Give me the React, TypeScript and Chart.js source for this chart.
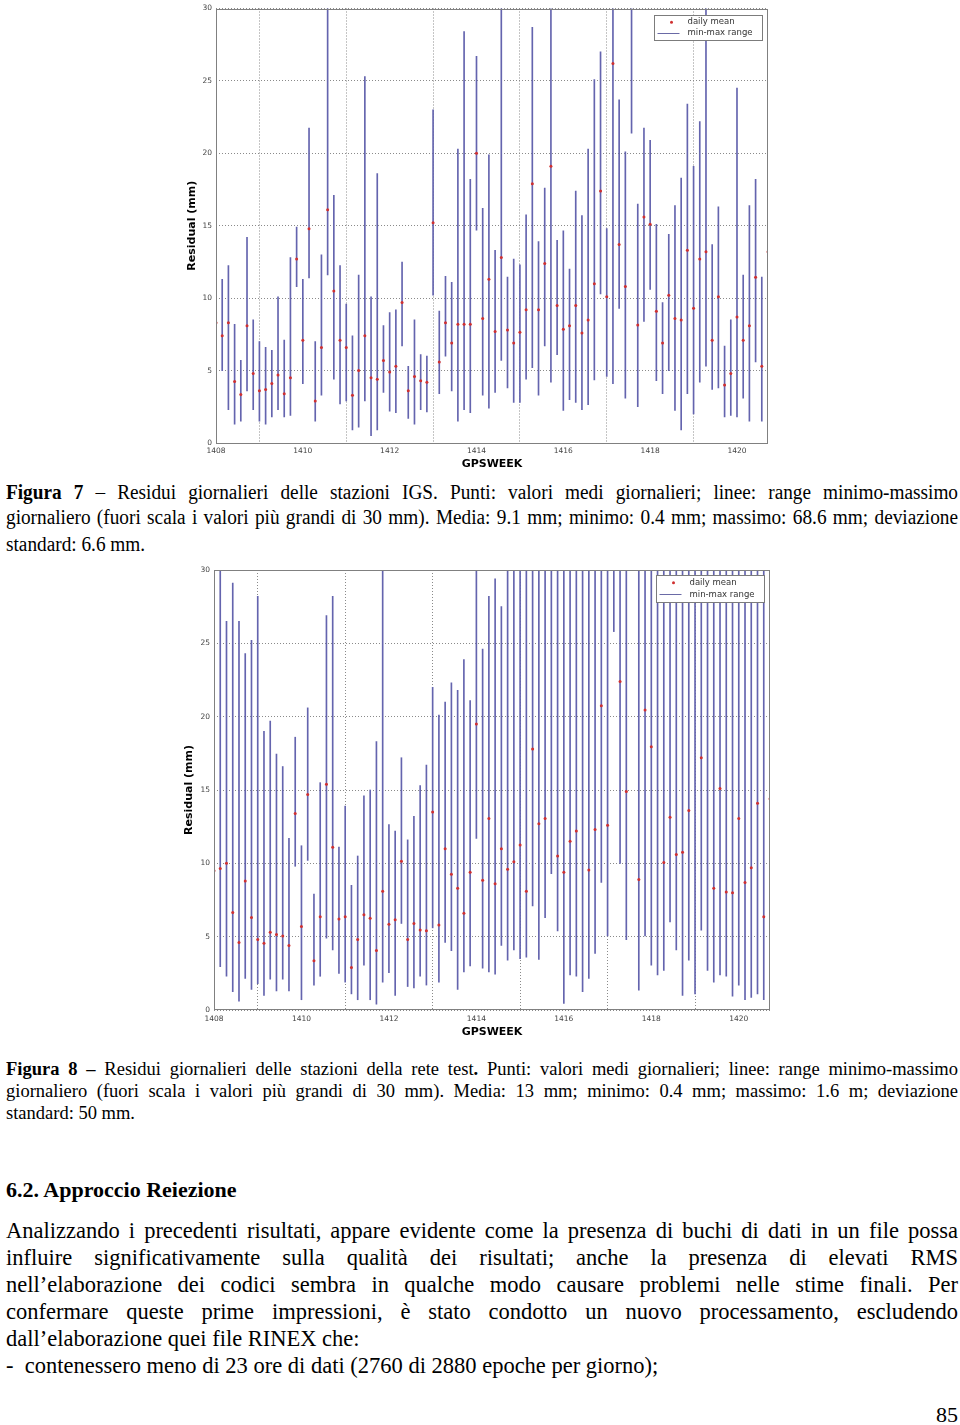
import React, { useEffect, useRef } from 'react';
import { Chart, registerables } from 'chart.js';
Chart.register(...registerables);

// ---------- data ----------
const START_WEEK = 1408;
const DAYS_PER_WEEK = 7;
const N_DAYS = 90;
const X_TICKS = [1408, 1410, 1412, 1414, 1416, 1418, 1420];
const Y_TICKS = [0, 5, 10, 15, 20, 25, 30];
const LEGEND_LABELS = ['daily mean', 'min-max range'];
const X_TITLE = 'GPSWEEK';
const Y_TITLE = 'Residual (mm)';

// Figura 7 – stazioni IGS (values > 30 mm are off scale, drawn as 31)
const IGS_MEAN = [8.3, 7.4, 8.3, 4.25, 3.35, 8.1, 4.8, 3.6, 3.7, 4.1, 4.7, 3.4, 4.5, 12.7, 7.1, 14.8, 2.9, 6.6, 16.1, 10.5, 7.1, 6.6, 3.3, 5.0, 7.4, 4.5, 4.4, 5.7, 4.9, 5.3, 9.7, 3.6, 4.6, 4.3, 4.2, 15.2, 5.6, 8.3, 6.9, 8.2, 8.2, 8.2, 20.0, 8.6, 11.3, 7.7, 12.8, 7.8, 6.9, 7.65, 9.2, 17.9, 9.2, 12.4, 19.1, 9.5, 7.85, 8.1, 9.5, 7.6, 8.5, 11.0, 17.4, 10.1, 26.2, 13.7, 10.8, null, 8.15, 15.6, 15.1, 9.1, 6.9, 10.2, 8.6, 8.5, 13.3, 9.3, 12.7, 13.2, 7.1, 10.1, 4.0, 4.8, 8.7, 7.1, 8.1, 11.45, 5.3, 13.2];
const IGS_MIN = [null, 5.0, 2.3, 1.3, 1.5, 3.6, 2.3, 1.5, 1.3, 1.8, 2.3, 1.8, 1.9, 10.8, 4.1, 11.4, 1.5, 3.3, 11.6, 4.4, 2.7, 2.9, 0.9, 1.1, 2.9, 0.5, 0.9, 3.5, 2.2, 2.1, 6.7, 1.7, 1.3, 2.3, 2.15, 10.2, 3.4, 6.0, 3.6, 1.5, 2.3, 2.1, 14.7, 3.3, 2.4, 3.5, 5.7, 3.8, 2.8, 2.8, 4.4, 5.2, 3.3, 6.7, 4.2, 6.1, 2.25, 3.0, 2.8, 2.3, 2.65, 4.35, 10.3, 4.6, 4.1, 9.3, 3.1, 21.4, 2.5, 8.4, 10.6, 4.3, 3.4, 5.0, 2.25, 0.9, 3.4, 2.0, 4.2, 5.3, 3.7, 3.8, 1.8, 1.9, 1.8, 3.1, 1.5, 5.6, 1.5, null];
const IGS_MAX = [null, 11.3, 12.25, 8.2, 5.7, 14.2, 8.5, 7.0, 6.6, 6.4, 10.1, 7.1, 12.8, 14.9, 11.3, 21.75, 7.0, 13.0, 31, 17.1, 12.25, 9.6, 7.4, 11.6, 25.3, 10.1, 18.6, 8.1, 9.0, 9.2, 12.5, 5.3, 8.5, 6.1, 6.0, 23.0, 9.1, 11.5, 11.1, 20.3, 28.4, 18.2, 26.7, 16.2, 19.9, 13.3, 31, 11.45, 12.7, 12.3, 15.75, 28.7, 13.9, 17.6, 31, 14.0, 14.65, 12.0, 17.4, 15.7, 20.3, 25.1, 27.0, 14.8, 31, 23.7, 20.1, 31, 16.5, 21.75, 20.9, 15.1, 9.7, 14.4, 16.4, 18.3, 23.4, 19.1, 22.2, 31, 13.7, 16.3, 6.7, 8.5, 24.5, 11.6, 16.4, 18.2, 11.45, null];

// Figura 8 – stazioni della rete test
const TEST_MEAN = [9.5, 9.65, 10.0, 6.65, 4.6, 8.8, 6.3, 4.8, 4.55, 5.3, 5.15, 5.05, 4.4, 13.4, 5.7, 14.7, 3.35, 6.35, 15.4, 11.1, 6.2, 6.35, 2.9, 4.8, 6.5, 6.25, 4.05, 8.1, 5.85, 6.15, 10.15, 4.8, 5.9, 5.45, 5.4, 13.5, 5.8, 11.0, 9.25, 8.3, 6.6, 9.4, 19.5, 8.85, 13.05, 8.6, 11.0, 9.6, 10.1, 11.25, 8.1, 17.8, 12.7, 13.05, null, 10.5, 9.4, 11.5, 12.2, null, 9.55, 12.3, 20.75, 12.6, null, 22.4, 14.9, null, 8.9, 20.45, 17.95, null, 10.05, 13.15, 10.6, 10.75, 13.6, null, 17.2, null, 8.3, 15.1, 8.05, 8.0, 13.05, 8.7, 9.7, 14.1, 6.35, 14.4];
const TEST_MIN = [null, 2.95, 2.3, 1.25, 0.6, 2.15, 1.4, 1.8, 1.0, 2.1, 1.3, 2.1, 1.3, 9.8, 0.7, 10.2, 1.7, 2.3, 4.9, 4.1, 2.5, 1.9, 1.1, 0.7, 3.05, 0.7, 0.4, 1.9, 2.55, 1.0, 5.9, 1.6, 1.5, 2.3, 1.7, 5.6, 1.9, 4.6, 4.05, 1.4, 2.6, 3.0, 11.7, 2.85, 2.6, 2.45, 4.4, 3.4, 4.1, 3.5, 3.6, 7.1, 3.45, 6.3, 9.3, 5.4, 0.45, 2.4, 2.3, 1.25, 2.15, 3.85, 8.7, 5.05, 25.8, 10.0, 4.8, null, 1.35, 5.05, 3.05, 2.4, 2.7, 6.0, 4.1, 1.0, 3.4, 1.1, 5.45, 2.7, 1.9, 2.4, 2.3, 0.95, 1.7, 0.7, 0.85, 1.1, 0.7, null];
const TEST_MAX = [null, 31, 26.5, 29.1, 26.5, 24.3, 25.2, 28.2, 19.0, 19.7, 17.45, 16.6, 11.7, 18.6, 11.2, 20.6, 7.9, 15.5, 26.9, 28.2, 11.1, 13.9, 8.5, 10.5, 14.6, 15.0, 18.3, 31, 12.65, 12.2, 17.2, 11.6, 13.2, 15.3, 16.7, 22.0, 20.1, 21.0, 22.3, 21.8, 23.9, 21.1, 31, 24.6, 28.2, 29.4, 27.5, 31, 31, 31, 31, 31, 31, 31, 31, 31, 31, 31, 31, 31, 31, 31, 31, 31, 31, 31, 31, null, 31, 31, 31, 31, 31, 31, 31, 31, 31, 31, 31, 31, 31, 31, 31, 31, 31, 31, 31, 31, 31, null];

// ---------- page setup ----------
if (typeof document !== 'undefined') {
  document.body.style.margin = '0';
  document.body.style.overflow = 'hidden';
}

const AXIS_FONT = '"DejaVu Sans", Verdana, sans-serif';
const SERIF = '"Liberation Serif", "Times New Roman", serif';

const weekOf = (i: number) => START_WEEK + i / DAYS_PER_WEEK;

const framePlugin = {
  id: 'frame',
  afterDatasetsDraw(chart: any) {
    const { ctx, chartArea: a } = chart;
    ctx.save();
    ctx.strokeStyle = '#808080';
    ctx.lineWidth = 1;
    ctx.strokeRect(Math.round(a.left) + 0.5, Math.round(a.top) + 0.5, Math.round(a.right - a.left) - 1, Math.round(a.bottom - a.top) - 1);
    ctx.restore();
  },
};

const boxLegendPlugin = {
  id: 'boxLegend',
  afterDraw(chart: any, _args: any, opts: any) {
    const { ctx, chartArea: a } = chart;
    const w = opts.width, h = opts.height;
    const x0 = Math.round(a.right - opts.inset - w) + 0.5;
    const y0 = Math.round(a.top + opts.insetTop) + 0.5;
    ctx.save();
    ctx.fillStyle = '#ffffff';
    ctx.fillRect(x0, y0, w, h);
    ctx.strokeStyle = '#7c7c7c';
    ctx.lineWidth = 1;
    ctx.strokeRect(x0, y0, w, h);
    const ds = chart.data.datasets;
    const r1 = y0 + h * 0.27;
    const r2 = y0 + h * 0.7;
    ctx.fillStyle = ds[0].backgroundColor;
    ctx.beginPath();
    ctx.arc(x0 + 17, r1, 1.5, 0, Math.PI * 2);
    ctx.fill();
    ctx.strokeStyle = '#6a6aa6';
    ctx.beginPath();
    ctx.moveTo(x0 + 3, Math.round(r2) + 0.5);
    ctx.lineTo(x0 + 25, Math.round(r2) + 0.5);
    ctx.stroke();
    ctx.fillStyle = '#333333';
    ctx.font = `8.5px ${AXIS_FONT}`;
    ctx.textBaseline = 'middle';
    ctx.textAlign = 'left';
    ctx.fillText(ds[0].label, x0 + 33, r1);
    ctx.fillText(ds[1].label, x0 + 33, r2);
    ctx.restore();
  },
};

type ChartProps = {
  mean: (number | null)[];
  min: (number | null)[];
  max: (number | null)[];
  left: number;
  top: number;
  width: number;
  height: number;
  padTop: number;
  padRight: number;
  yAxisWidth: number;
  xAxisHeight: number;
  yTitlePad: number;
  xTitlePad: number;
  xTickPad: number;
  legendInsetTop: number;
  legendHeight: number;
};

function ResidualChart(p: ChartProps) {
  const ref = useRef<HTMLCanvasElement>(null);
  useEffect(() => {
    if (!ref.current) return;
    const meanPts: any[] = [];
    const rangePts: any[] = [];
    for (let i = 0; i < N_DAYS; i++) {
      const m = p.mean[i];
      if (m != null) meanPts.push({ x: weekOf(i), y: m });
      const lo = p.min[i], hi = p.max[i];
      if (lo != null && hi != null) rangePts.push({ x: weekOf(i), y: [lo, hi] });
    }
    const chart = new Chart(ref.current, {
      type: 'bar',
      data: {
        datasets: [
          {
            type: 'scatter',
            label: LEGEND_LABELS[0],
            data: meanPts,
            backgroundColor: '#d03030',
            borderWidth: 0,
            pointRadius: 1.5,
            order: 0,
          } as any,
          {
            type: 'bar',
            label: LEGEND_LABELS[1],
            data: rangePts,
            backgroundColor: '#6464ae',
            barThickness: 1,
            grouped: false,
            order: 1,
          } as any,
        ],
      },
      options: {
        animation: false,
        responsive: false,
        events: [],
        layout: { padding: { top: p.padTop, right: p.padRight, left: 0, bottom: 0 } },
        plugins: {
          legend: { display: false },
          tooltip: { enabled: false },
          boxLegend: { width: 108, height: p.legendHeight, inset: 6, insetTop: p.legendInsetTop },
        } as any,
        scales: {
          x: {
            type: 'linear',
            min: START_WEEK,
            max: weekOf(N_DAYS - 1),
            offset: false,
            afterBuildTicks: (s: any) => { s.ticks = X_TICKS.map((v) => ({ value: v })); },
            afterFit: (s: any) => { s.height = p.xAxisHeight; },
            ticks: {
              autoSkip: false,
              maxRotation: 0,
              padding: p.xTickPad,
              color: '#444',
              font: { family: AXIS_FONT, size: 7.5 },
              callback: (v: any) => String(v),
            },
            grid: { color: '#8a8a8a', lineWidth: 1, drawTicks: false },
            border: { display: false, dash: [1, 2] },
            title: {
              display: true,
              text: X_TITLE,
              color: '#000',
              font: { family: AXIS_FONT, size: 11, weight: 'bold' },
              padding: { top: 0, bottom: p.xTitlePad },
            },
          },
          y: {
            type: 'linear',
            min: 0,
            max: 30,
            afterBuildTicks: (s: any) => { s.ticks = Y_TICKS.map((v) => ({ value: v })); },
            afterFit: (s: any) => { s.width = p.yAxisWidth; },
            ticks: {
              autoSkip: false,
              padding: 4,
              color: '#444',
              font: { family: AXIS_FONT, size: 7.5 },
              callback: (v: any) => String(v),
            },
            grid: { color: '#8a8a8a', lineWidth: 1, drawTicks: false },
            border: { display: false, dash: [1, 2] },
            title: {
              display: true,
              text: Y_TITLE,
              color: '#000',
              font: { family: AXIS_FONT, size: 11, weight: 'bold' },
              padding: { top: p.yTitlePad, bottom: 0 },
            },
          },
        },
      } as any,
      plugins: [framePlugin, boxLegendPlugin],
    });
    return () => chart.destroy();
  }, []);
  return (
    <canvas
      ref={ref}
      width={p.width}
      height={p.height}
      style={{ position: 'absolute', left: p.left, top: p.top, width: p.width, height: p.height }}
    />
  );
}

type LineProps = { top: number; size: number; lh: number; justify?: boolean; bold?: boolean; squeeze?: number; children: React.ReactNode };
function TextLine({ top, size, lh, justify = true, bold = false, squeeze = 1, children }: LineProps) {
  return (
    <div
      style={{
        position: 'absolute',
        left: 6,
        width: 952 / squeeze,
        top,
        height: lh,
        fontFamily: SERIF,
        fontSize: size,
        lineHeight: `${lh}px`,
        fontWeight: bold ? 'bold' : 'normal',
        whiteSpace: 'nowrap',
        textAlign: justify ? 'justify' : 'left',
        textAlignLast: justify ? 'justify' : 'left',
        transform: squeeze !== 1 ? `scaleX(${squeeze})` : undefined,
        transformOrigin: 'left center',
        color: '#000',
      } as any}
    >
      {children}
    </div>
  );
}

export default function App() {
  const c7 = 20.5, c8 = 18.5, bodySize = 22.5, sq7 = 0.94;
  return (
    <div style={{ position: 'relative', width: 960, height: 1425, background: '#fff', overflow: 'hidden' }}>
      <ResidualChart
        mean={IGS_MEAN} min={IGS_MIN} max={IGS_MAX}
        left={170} top={0} width={610} height={475}
        padTop={6} padRight={12} yAxisWidth={46} xAxisHeight={32}
        yTitlePad={16} xTitlePad={4} xTickPad={4}
        legendInsetTop={6} legendHeight={25}
      />
      <TextLine top={479} size={c7} lh={26} squeeze={sq7}><b>Figura 7</b> – Residui giornalieri delle stazioni IGS. Punti: valori medi giornalieri; linee: range minimo-massimo</TextLine>
      <TextLine top={504} size={c7} lh={26} squeeze={sq7}>giornaliero (fuori scala i valori più grandi di 30 mm). Media: 9.1 mm; minimo: 0.4 mm; massimo: 68.6 mm; deviazione</TextLine>
      <TextLine top={531} size={c7} lh={26} squeeze={sq7} justify={false}>standard: 6.6 mm.</TextLine>

      <ResidualChart
        mean={TEST_MEAN} min={TEST_MIN} max={TEST_MAX}
        left={170} top={560} width={615} height={480}
        padTop={10} padRight={15} yAxisWidth={44} xAxisHeight={30}
        yTitlePad={13} xTitlePad={1} xTickPad={5}
        legendInsetTop={5} legendHeight={27}
      />
      <TextLine top={1058} size={c8} lh={22}><b>Figura 8 –</b> Residui giornalieri delle stazioni della rete test<b>.</b> Punti: valori medi giornalieri; linee: range minimo-massimo</TextLine>
      <TextLine top={1080} size={c8} lh={22}>giornaliero (fuori scala i valori più grandi di 30 mm). Media: 13 mm; minimo: 0.4 mm; massimo: 1.6 m; deviazione</TextLine>
      <TextLine top={1102} size={c8} lh={22} justify={false}>standard: 50 mm.</TextLine>

      <TextLine top={1177} size={22} lh={26} bold justify={false}>6.2. Approccio Reiezione</TextLine>

      <TextLine top={1217} size={bodySize} lh={27}>Analizzando i precedenti risultati, appare evidente come la presenza di buchi di dati in un file possa</TextLine>
      <TextLine top={1244} size={bodySize} lh={27}>influire significativamente sulla qualità dei risultati; anche la presenza di elevati RMS</TextLine>
      <TextLine top={1271} size={bodySize} lh={27}>nell’elaborazione dei codici sembra in qualche modo causare problemi nelle stime finali. Per</TextLine>
      <TextLine top={1298} size={bodySize} lh={27}>confermare queste prime impressioni, è stato condotto un nuovo processamento, escludendo</TextLine>
      <TextLine top={1325} size={bodySize} lh={27} justify={false}>dall’elaborazione quei file RINEX che:</TextLine>
      <TextLine top={1352} size={bodySize} lh={27} justify={false}>-&nbsp;&nbsp;contenessero meno di 23 ore di dati (2760 di 2880 epoche per giorno);</TextLine>

      <div style={{ position: 'absolute', right: 2, top: 1402, fontFamily: SERIF, fontSize: 22, lineHeight: '26px' }}>85</div>
    </div>
  );
}
